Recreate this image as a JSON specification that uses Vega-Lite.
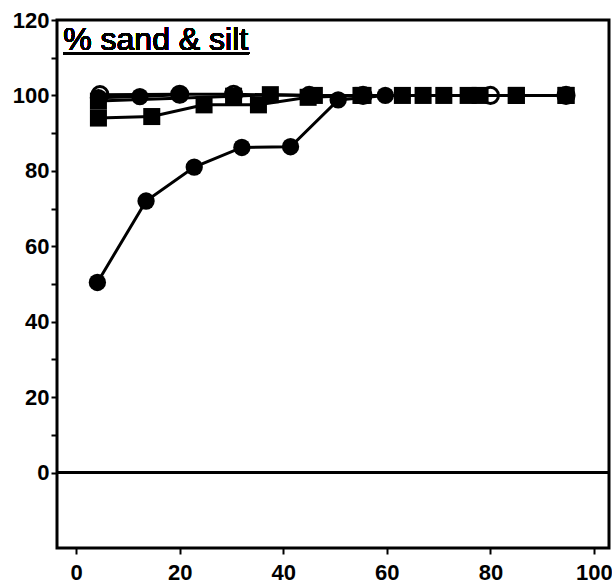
{
  "$schema": "https://vega.github.io/schema/vega-lite/v6.json",
  "autosize": "none",
  "width": 552,
  "height": 528,
  "padding": {"left": 57, "top": 20, "right": 3, "bottom": 37},
  "background": "white",
  "config": {
    "view": {"stroke": "black", "strokeWidth": 3},
    "axis": {
      "domain": false, "grid": false, "title": null,
      "tickColor": "black", "tickWidth": 2, "tickSize": 6,
      "labelFont": "Liberation Sans", "labelFontSize": 22, "labelFontWeight": "bold",
      "labelColor": "black"
    }
  },
  "data": {
    "values": [
      {"series": "A", "x": 4.1, "y": 50.4},
      {"series": "A", "x": 13.5, "y": 72},
      {"series": "A", "x": 22.8, "y": 81},
      {"series": "A", "x": 32, "y": 86.2},
      {"series": "A", "x": 41.4, "y": 86.4},
      {"series": "A", "x": 50.6, "y": 98.8},
      {"series": "A", "x": 59.7, "y": 100},
      {"series": "B", "x": 4.3, "y": 99.4},
      {"series": "B", "x": 12.3, "y": 99.7},
      {"series": "B", "x": 20, "y": 100.2},
      {"series": "C", "x": 4.6, "y": 100.2},
      {"series": "C", "x": 20, "y": 100.3},
      {"series": "C", "x": 30.4, "y": 100.3},
      {"series": "C", "x": 45, "y": 100},
      {"series": "C", "x": 55.4, "y": 100},
      {"series": "C", "x": 80, "y": 100},
      {"series": "C", "x": 94.6, "y": 100},
      {"series": "D", "x": 4.3, "y": 94},
      {"series": "D", "x": 14.6, "y": 94.4},
      {"series": "D", "x": 24.7, "y": 97.5},
      {"series": "D", "x": 35.2, "y": 97.5},
      {"series": "D", "x": 44.8, "y": 99.5},
      {"series": "D", "x": 55, "y": 100},
      {"series": "D", "x": 63, "y": 100},
      {"series": "D", "x": 71, "y": 100},
      {"series": "D", "x": 78, "y": 100},
      {"series": "D", "x": 85, "y": 100},
      {"series": "D", "x": 94.6, "y": 100},
      {"series": "E", "x": 4.3, "y": 98.5},
      {"series": "E", "x": 30.4, "y": 99.8},
      {"series": "E", "x": 37.5, "y": 100.2},
      {"series": "E", "x": 46, "y": 100},
      {"series": "E", "x": 55.4, "y": 100},
      {"series": "E", "x": 67, "y": 100},
      {"series": "E", "x": 75.7, "y": 100},
      {"series": "E", "x": 85, "y": 100},
      {"series": "E", "x": 94.6, "y": 100}
    ]
  },
  "encoding": {
    "x": {"field": "x", "type": "quantitative",
      "scale": {"domain": [-3.7, 102.9], "nice": false, "zero": false},
      "axis": {"values": [0, 20, 40, 60, 80, 100], "labelPadding": 8}},
    "y": {"field": "y", "type": "quantitative",
      "scale": {"domain": [-20, 120], "nice": false, "zero": false},
      "axis": {"values": [0, 10, 20, 30, 40, 50, 60, 70, 80, 90, 100, 110, 120],
        "labelExpr": "datum.value % 20 == 0 ? datum.label : ''", "labelPadding": 2}}
  },
  "layer": [
    {
      "mark": {"type": "rule", "color": "black", "strokeWidth": 2.5},
      "encoding": {"x": null, "y": {"datum": 0}}
    },
    {
      "mark": {"type": "line", "color": "black", "strokeWidth": 3},
      "encoding": {"detail": {"field": "series"}}
    },
    {
      "transform": [{"filter": "datum.series == 'D' || datum.series == 'E'"}],
      "mark": {"type": "point", "shape": "square", "filled": true, "color": "black", "size": 290, "opacity": 1}
    },
    {
      "transform": [{"filter": "datum.series == 'A' || datum.series == 'B'"}],
      "mark": {"type": "point", "shape": "circle", "filled": true, "color": "black", "size": 300, "opacity": 1}
    },
    {
      "transform": [{"filter": "datum.series == 'C'"}],
      "mark": {"type": "point", "shape": "circle", "filled": false, "color": "black", "strokeWidth": 3, "size": 260, "opacity": 1}
    },
    {
      "mark": {"type": "text", "text": "% sand & silt", "align": "left", "baseline": "alphabetic",
        "font": "Liberation Sans", "fontSize": 32, "color": "black"},
      "encoding": {"x": {"datum": -2.5}, "y": {"datum": 112}}
    },
    {
      "mark": {"type": "rule", "color": "black", "strokeWidth": 2},
      "encoding": {"x": {"datum": -2.5}, "x2": {"datum": 33.4}, "y": {"datum": 111.2}}
    }
  ]
}
